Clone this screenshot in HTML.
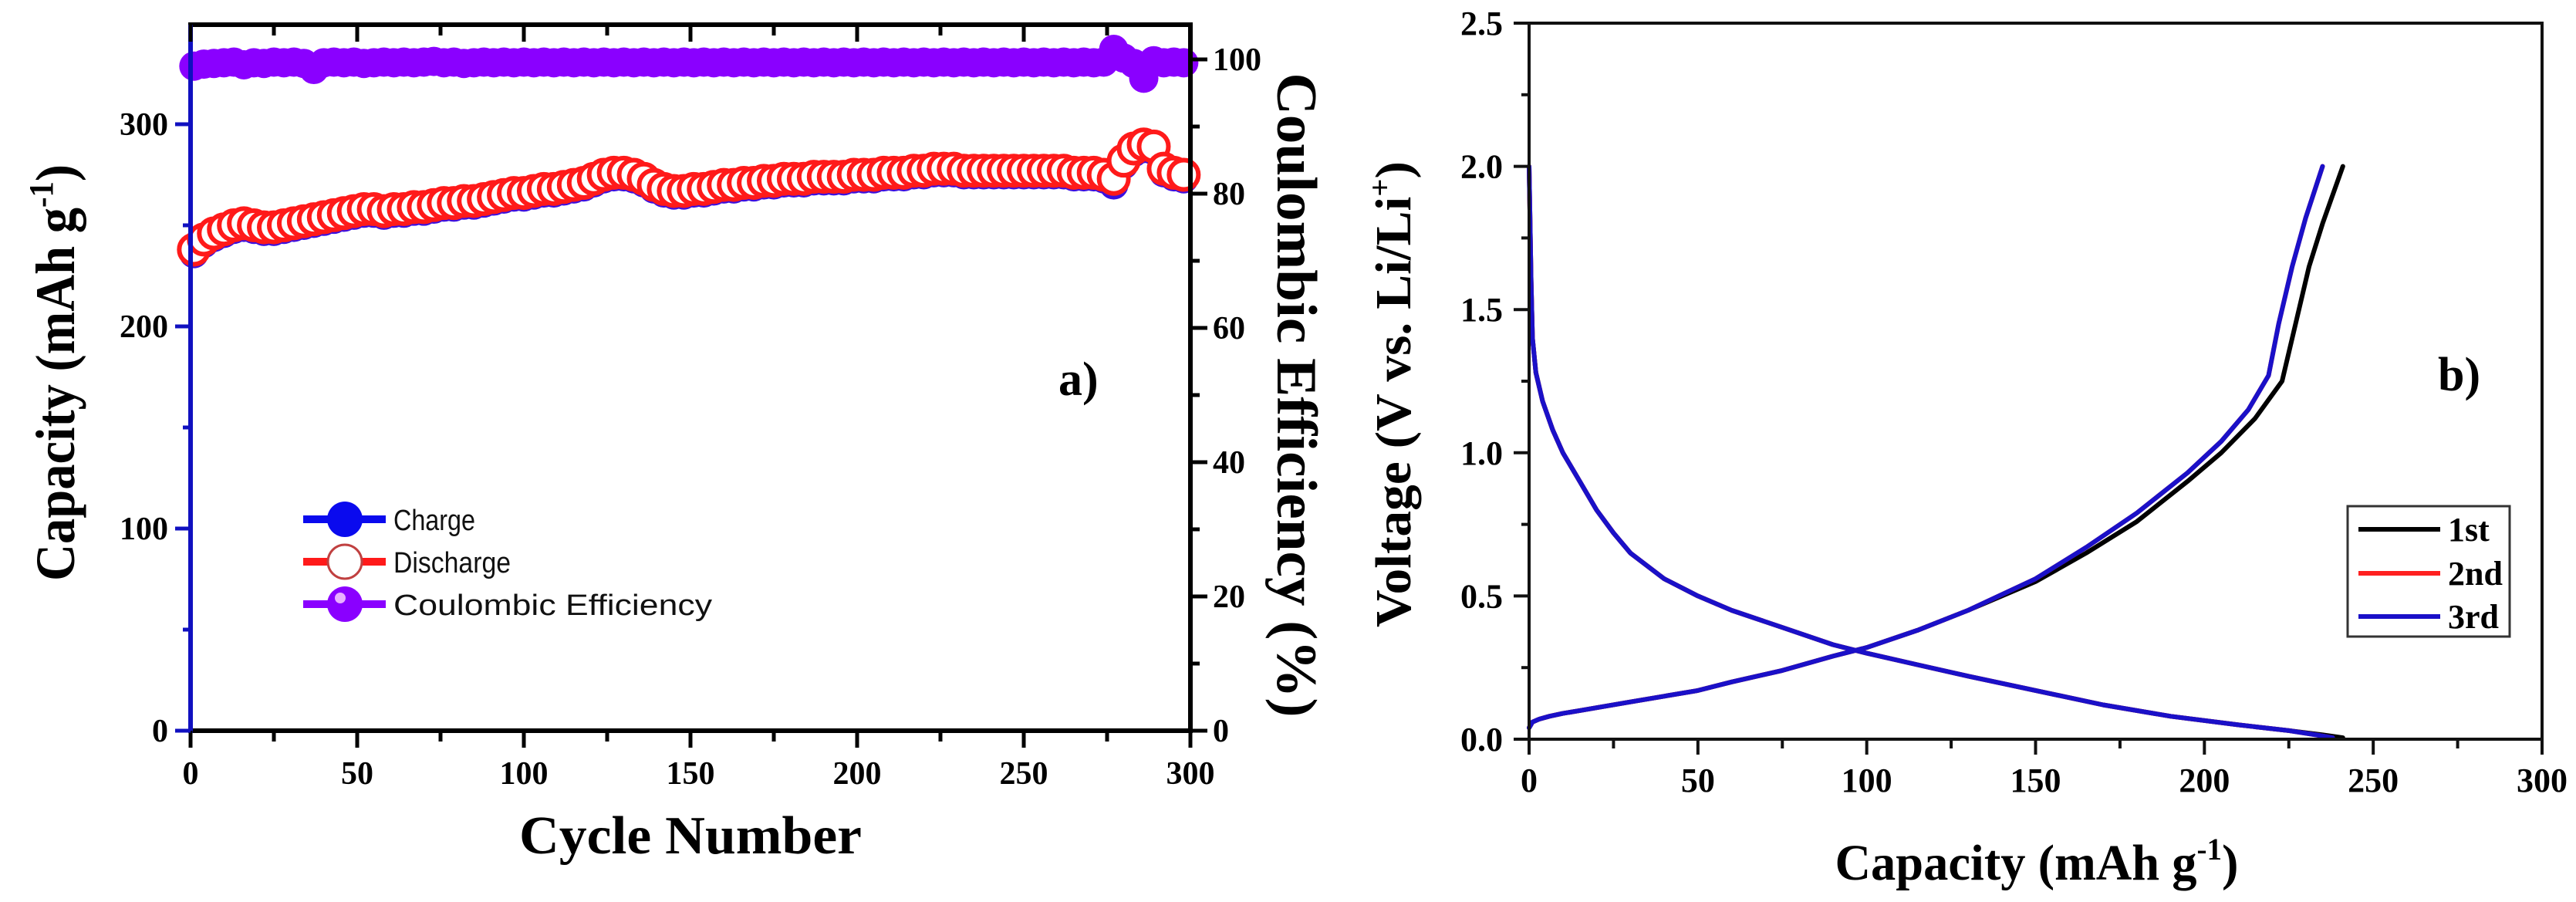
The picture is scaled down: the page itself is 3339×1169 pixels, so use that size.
<!DOCTYPE html>
<html><head><meta charset="utf-8"><style>
html,body{margin:0;padding:0;background:#fff;}
svg{display:block;}
.ser{font-family:"Liberation Serif",serif;font-weight:bold;}
.san{font-family:"Liberation Sans",sans-serif;}
</style></head><body>
<svg id="fig" width="3339" height="1169" viewBox="0 0 3339 1169" xmlns="http://www.w3.org/2000/svg">
<g id="pa"></g>
<g id="pb"></g>
</svg>
<script>
// ---- Panel a data ----
const cycles = [1,4,7,10,13,16,19,22,25,28,31,34,37,40,43,46,49,52,55,58,61,64,67,70,73,76,79,82,85,88,91,94,97,100,103,106,109,112,115,118,121,124,127,130,133,136,139,142,145,148,151,154,157,160,163,166,169,172,175,178,181,184,187,190,193,196,199,202,205,208,211,214,217,220,223,226,229,232,235,238,241,244,247,250,253,256,259,262,265,268,271,274,277,280,283,286,289,292,295,298];
const dischargeCap = [238,243,246,248,250,251,250,249,249,250, 251,252,253,254,255,256,257,258,258,257, 258,258,259,259,260,261,261,262,262,263, 264,265,266,266,267,268,268,269,270,271, 273,275,276,276,275,273,270,268,267,267, 268,268,269,270,270,271,271,272,272,273, 273,273,274,274,274,274,275,275,275,276, 276,276,277,277,278,278,278,277,277,277, 277,277,277,277,277,277,277,277,276,276, 276,275,273,282,288,290,289,278,276,275];
const chargeCap = [236,241,244,246,248,249,248,247,247,248, 249,250,251,252,253,254,255,256,256,255, 256,256,257,257,258,259,259,260,260,261, 262,263,264,264,265,266,266,267,268,269, 271,273,274,274,273,271,268,266,265,265, 266,266,267,268,268,269,269,270,270,271, 271,271,272,272,272,272,273,273,273,274, 274,274,275,275,276,276,276,275,275,275, 275,275,275,275,275,275,275,275,274,274, 274,273,270,280,286,288,287,276,274,273];
const coulombic = [99.0,99.3,99.4,99.5,99.6,99.2,99.5,99.4,99.6,99.5, 99.6,99.4,98.5,99.5,99.6,99.5,99.6,99.4,99.5,99.6, 99.5,99.6,99.5,99.6,99.7,99.5,99.6,99.4,99.5,99.6, 99.5,99.6,99.5,99.6,99.5,99.6,99.5,99.6,99.5,99.6, 99.5,99.6,99.5,99.6,99.5,99.6,99.5,99.6,99.5,99.6, 99.5,99.6,99.5,99.6,99.5,99.6,99.5,99.6,99.5,99.6, 99.5,99.6,99.5,99.6,99.5,99.6,99.5,99.6,99.5,99.6, 99.5,99.6,99.5,99.6,99.5,99.6,99.5,99.6,99.5,99.6, 99.5,99.6,99.5,99.6,99.5,99.6,99.5,99.6,99.5,99.6, 99.5,99.6,101.5,100.2,99.4,97.2,99.8,99.5,99.6,99.5];
const xTicksA = [0,50,100,150,200,250,300];
const capTicks = [0,100,200,300];
const ceTicks = [0,20,40,60,80,100];
// ---- Panel b data ----
const disCap1 = [0,0.3,0.6,1,2,4,7,10,15,20,25,30,40,50,60,75,90,100,115,130,150,170,190,210,225,235,241];
const disV1 = [2.0,1.8,1.6,1.4,1.28,1.18,1.08,1.0,0.9,0.8,0.72,0.65,0.56,0.5,0.45,0.39,0.33,0.3,0.26,0.22,0.17,0.12,0.08,0.05,0.03,0.015,0.005];
const disCap23 = [0,0.3,0.6,1,2,4,7,10,15,20,25,30,40,50,60,75,90,100,115,130,150,170,190,210,225,233,238];
const disV23 = [2.0,1.8,1.6,1.4,1.28,1.18,1.08,1.0,0.9,0.8,0.72,0.65,0.56,0.5,0.45,0.39,0.33,0.3,0.26,0.22,0.17,0.12,0.08,0.05,0.03,0.015,0.005];
const chCap1 = [0,1,3,6,10,15,20,30,40,50,60,75,90,100,115,130,150,165,180,195,205,215,223,227,231,235,238,241];
const chV1 = [0.04,0.06,0.07,0.08,0.09,0.1,0.11,0.13,0.15,0.17,0.2,0.24,0.29,0.32,0.38,0.45,0.55,0.65,0.76,0.9,1.0,1.12,1.25,1.45,1.65,1.8,1.9,2.0];
const chCap23 = [0,1,3,6,10,15,20,30,40,50,60,75,90,100,115,130,150,165,180,195,205,213,219,222,226,230,235];
const chV23 = [0.04,0.06,0.07,0.08,0.09,0.1,0.11,0.13,0.15,0.17,0.2,0.24,0.29,0.32,0.38,0.45,0.56,0.67,0.79,0.93,1.04,1.15,1.27,1.45,1.65,1.82,2.0];
const xTicksB = [0,50,100,150,200,250,300];
const vTicks = [0.0,0.5,1.0,1.5,2.0,2.5];

const NS = "http://www.w3.org/2000/svg";
function mk(parent, tag, attrs, text){
  const e = document.createElementNS(NS, tag);
  for (const k in attrs) e.setAttribute(k, attrs[k]);
  if (text !== undefined) e.textContent = text;
  parent.appendChild(e);
  return e;
}

// ================= Panel a =================
const pa = document.getElementById('pa');
const AL=247, AR=1543, AT=32, AB=947;
const ax = c => AL + c/300*(AR-AL);
const ayC = v => AB - v*2.62;
const ayE = v => AB - v*8.7;

const gCE = mk(pa,'g',{});


cycles.forEach((c,i)=>{
  const m = mk(gCE,'circle',{cx:ax(c),cy:ayE(coulombic[i]),r:19,fill:'#8a00ff'});
  
  
});
const gCh = mk(pa,'g',{});


cycles.forEach((c,i)=>{
  const m = mk(gCh,'circle',{cx:ax(c),cy:ayC(chargeCap[i]),r:19,fill:'#3a10e0'});
  
  
});
const gDi = mk(pa,'g',{});


cycles.forEach((c,i)=>{
  const m = mk(gDi,'circle',{cx:ax(c),cy:ayC(dischargeCap[i]),r:19,fill:'#fff',stroke:'#ff1a1a','stroke-width':6});
  
  
});

mk(pa,'line',{x1:AL-3,y1:AT,x2:AR+3,y2:AT,stroke:'#000','stroke-width':6});
mk(pa,'line',{x1:AL-3,y1:AB,x2:AR+3,y2:AB,stroke:'#000','stroke-width':6});
mk(pa,'line',{x1:AR,y1:AT,x2:AR,y2:AB,stroke:'#000','stroke-width':6});
mk(pa,'line',{x1:AL,y1:AT,x2:AL,y2:AB+3,stroke:'#1010c0','stroke-width':6});
for (let c=0;c<=300;c+=25){
  const major = c%50===0;
  mk(pa,'line',{x1:ax(c),y1:AB,x2:ax(c),y2:AB+(major?22:14),stroke:'#000','stroke-width':5});
  mk(pa,'line',{x1:ax(c),y1:AT,x2:ax(c),y2:AT+(major?22:14),stroke:'#000','stroke-width':5});
}
xTicksA.forEach(t=>{
  const e = mk(pa,'text',{x:ax(t),y:1016,'text-anchor':'middle','font-size':42,class:'ser'},String(t));
  
  
});
for (let v=0; v<=300; v+=50){
  mk(pa,'line',{x1:AL-(v%100===0?20:10),y1:ayC(v),x2:AL,y2:ayC(v),stroke:'#1010c0','stroke-width':5});
}
capTicks.forEach(t=>{
  const e = mk(pa,'text',{x:218,y:ayC(t)+14,'text-anchor':'end','font-size':42,class:'ser'},String(t));
  
  
});
for (let v=0; v<=100; v+=10){
  mk(pa,'line',{x1:AR,y1:ayE(v),x2:AR+(v%20===0?22:12),y2:ayE(v),stroke:'#000','stroke-width':5});
}
ceTicks.forEach(t=>{
  const e = mk(pa,'text',{x:1572,y:ayE(t)+14,'text-anchor':'start','font-size':42,class:'ser'},String(t));
  
  
});
</script>
<script>
(function(){
const pa = document.getElementById('pa');
const NS="http://www.w3.org/2000/svg";
function mk(p,t,a,x){const e=document.createElementNS(NS,t);for(const k in a)e.setAttribute(k,a[k]);if(x!==undefined)e.textContent=x;p.appendChild(e);return e;}
let e = mk(pa,'text',{x:895,y:1106,'text-anchor':'middle','font-size':70,class:'ser',textLength:444,lengthAdjust:'spacingAndGlyphs'},'Cycle Number');


e = mk(pa,'text',{transform:'translate(96,483) rotate(-90)','text-anchor':'middle','font-size':72,class:'ser',textLength:540,lengthAdjust:'spacingAndGlyphs'});


e.innerHTML='Capacity (mAh g<tspan dy="-28" font-size="44">-1</tspan><tspan dy="28">)</tspan>';
e = mk(pa,'text',{transform:'translate(1656,512) rotate(90)','text-anchor':'middle','font-size':74,class:'ser',textLength:835,lengthAdjust:'spacingAndGlyphs'},'Coulombic Efficiency (%)');


e = mk(pa,'text',{x:1372,y:512,'font-size':62,class:'ser'},'a)');


const lg = mk(pa,'g',{});


const rows=[['Charge',673,'#0a0aee'],['Discharge',728,'#ff1a1a'],['Coulombic Efficiency',783,'#8a00ff']];
rows.forEach((r,i)=>{
  const g = mk(lg,'g',{});
  
  
  mk(g,'line',{x1:393,y1:r[1],x2:500,y2:r[1],stroke:r[2],'stroke-width':10});
  if(i===1) mk(g,'circle',{cx:447,cy:r[1],r:22,fill:'#fff',stroke:'#c04040','stroke-width':3});
  else mk(g,'circle',{cx:447,cy:r[1],r:23,fill:r[2]});
  if(i===2) mk(g,'circle',{cx:441,cy:r[1]-8,r:7,fill:'#e8b0ff'});
  const tl = [106,152,413][i];
  mk(g,'text',{x:510,y:r[1]+14,'font-size':38,class:'san',textLength:tl,lengthAdjust:'spacingAndGlyphs',fill:'#111'},r[0]);
});
})();
</script>
<script>
(function(){
const pb = document.getElementById('pb');
const BL=1982, BR=3295, BT=30, BB=958;
const bx = c => BL + c/300*(BR-BL);
const by = v => BB - v/2.5*(BB-BT);
function path(caps, vs){ return caps.map((c,i)=>(i?'L':'M')+bx(c).toFixed(1)+' '+by(vs[i]).toFixed(1)).join(' '); }
const curves = [
  ['cycle-1st','#000',disCap1,disV1,chCap1,chV1],
  ['cycle-2nd','#ff2020',disCap23,disV23,chCap23,chV23],
  ['cycle-3rd','#1a10c8',disCap23,disV23,chCap23,chV23]
];
curves.forEach(cv=>{
  const g = mk(pb,'g',{fill:'none',stroke:cv[1],'stroke-width':6,'stroke-linejoin':'round','stroke-linecap':'round'});
  
  
  const d = mk(g,'path',{d:path(cv[2],cv[3])});
  
  
  const c = mk(g,'path',{d:path(cv[4],cv[5])});
  
  
});
mk(pb,'rect',{x:BL,y:BT,width:BR-BL,height:BB-BT,fill:'none',stroke:'#111','stroke-width':4});
for(let c=0;c<=300;c+=25){
  const major=c%50===0;
  mk(pb,'line',{x1:bx(c),y1:BB,x2:bx(c),y2:BB+(major?20:12),stroke:'#111','stroke-width':4});
}
xTicksB.forEach(t=>{
  const e = mk(pb,'text',{x:bx(t),y:1026,'text-anchor':'middle','font-size':44,class:'ser'},String(t));
  
  
});
for(let v=0;v<=2.5001;v+=0.25){
  const major=Math.round(v*100)%50===0;
  mk(pb,'line',{x1:BL-(major?20:10),y1:by(v),x2:BL,y2:by(v),stroke:'#111','stroke-width':4});
}
vTicks.forEach(t=>{
  const e = mk(pb,'text',{x:1948,y:by(t)+15,'text-anchor':'end','font-size':44,class:'ser'},t.toFixed(1));
  
  
});
let e = mk(pb,'text',{x:2640,y:1140,'text-anchor':'middle','font-size':66,class:'ser',textLength:523,lengthAdjust:'spacingAndGlyphs'});


e.innerHTML='Capacity (mAh g<tspan dy="-26" font-size="40">-1</tspan><tspan dy="26">)</tspan>';
e = mk(pb,'text',{transform:'translate(1828,511) rotate(-90)','text-anchor':'middle','font-size':66,class:'ser',textLength:604,lengthAdjust:'spacingAndGlyphs'});


e.innerHTML='Voltage (V vs. Li/Li<tspan dy="-26" font-size="40">+</tspan><tspan dy="26">)</tspan>';
e = mk(pb,'text',{x:3160,y:506,'font-size':62,class:'ser'},'b)');


const lg = mk(pb,'g',{});


mk(lg,'rect',{x:3043,y:656,width:210,height:169,fill:'#fff',stroke:'#333','stroke-width':3});
[['1st','#000',686],['2nd','#ff2020',743],['3rd','#1a10c8',799]].forEach(r=>{
  const g = mk(lg,'g',{});
  
  
  mk(g,'line',{x1:3057,y1:r[2],x2:3163,y2:r[2],stroke:r[1],'stroke-width':6});
  mk(g,'text',{x:3173,y:r[2]+15,'font-size':44,class:'ser'},r[0]);
});
})();
</script>
</body></html>
